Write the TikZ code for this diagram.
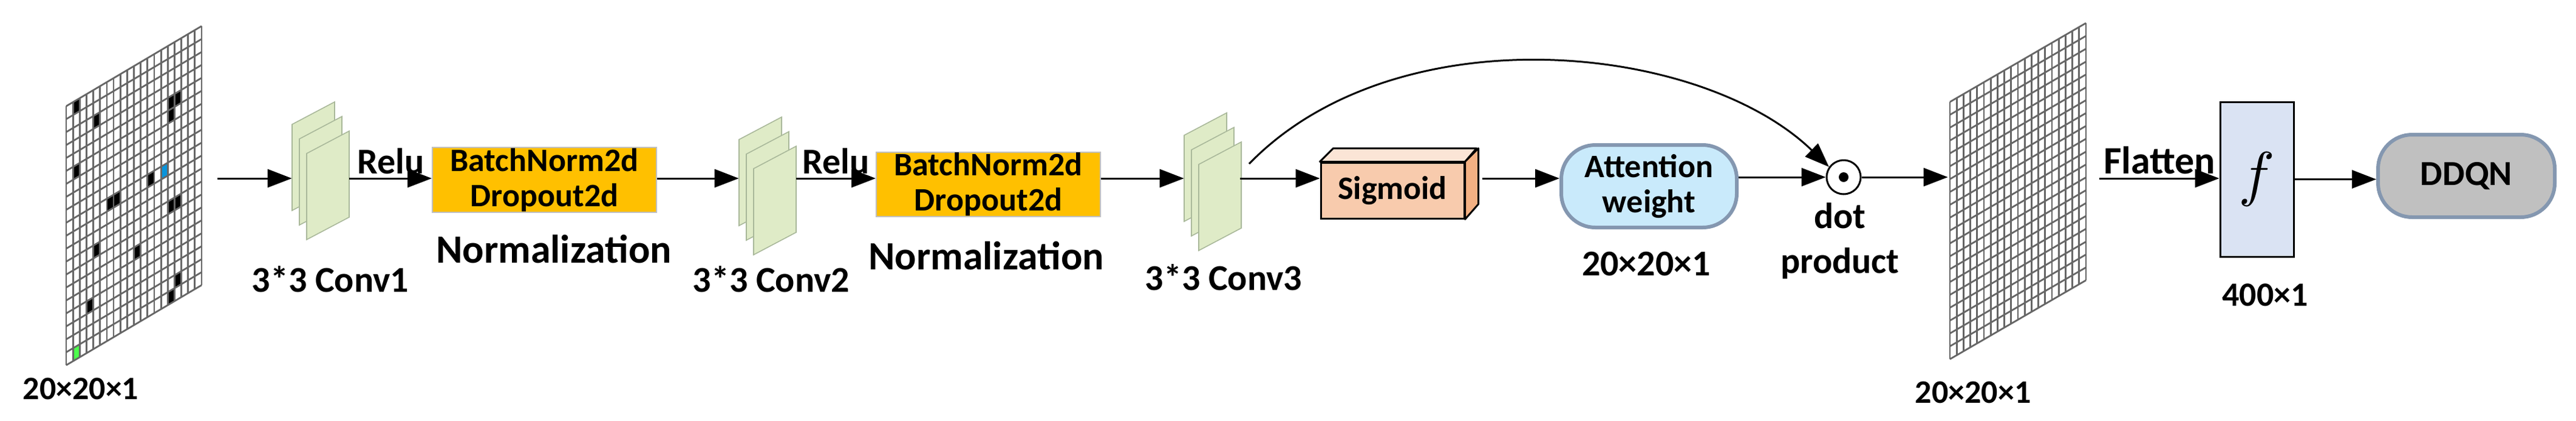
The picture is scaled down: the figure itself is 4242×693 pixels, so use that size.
\documentclass[tikz,border=0pt]{standalone}
\usepackage{fontspec}
\usepackage{graphicx}
\setmainfont{Carlito}
\usetikzlibrary{arrows.meta}
\definecolor{orng}{HTML}{FFC000}
\definecolor{convg}{HTML}{DFEBC7}
\definecolor{convb}{HTML}{A9B89A}
\definecolor{sigF}{HTML}{F8CBAD}
\definecolor{sigT}{HTML}{FBE5D6}
\definecolor{sigS}{HTML}{F4B183}
\definecolor{attF}{HTML}{C9EAFB}
\definecolor{bdr}{HTML}{8497B0}
\definecolor{fbox}{HTML}{DAE3F3}
\definecolor{ddq}{HTML}{C0C0C0}
\begin{document}
\begin{tikzpicture}[x=0.5pt,y=-0.5pt,
  lbl/.style={font=\fontsize{30}{34}\selectfont\bfseries, inner sep=0},
  box/.style={font=\fontsize{27}{31}\selectfont\bfseries, align=center, inner sep=0},
  arr/.style={line width=1.5pt,-{Triangle[length=20pt,width=15pt]}},
  hold/.style={inner sep=0, draw=none, minimum height=60pt},
  gline/.style={draw=black!60, line width=1.4pt},
  plane/.style={fill=convg, draw=convb, line width=0.8pt}]
\useasboundingbox (0,0) rectangle (4242,693);
% ---------- grid 1
\begin{scope}[shift={(109,175)}, x={(5.575pt,3.3pt)}, y={(0pt,-10.675pt)}]
  \fill[white] (0,0) -- (20,0) -- (20,20) -- (0,20) -- cycle;
  \foreach \c/\r in {1/0,4/2,15/4,16/4,1/5,14/9,12/9,6/9,7/9,15/12,4/12,10/14,16/18,15/19,3/16}
    {\fill[black] (\c,\r) -- (\c+1,\r) -- (\c+1,\r+1) -- (\c,\r+1) -- cycle;}
  \fill[black] (15,4) -- (16,4) -- (16,6) -- (15,6) -- cycle;
  \fill[black] (15,12) -- (17,12) -- (17,13) -- (15,13) -- cycle;
  \fill[cyan!80!blue] (14,9) -- (15,9) -- (15,10) -- (14,10) -- cycle;
  \fill[green!70] (1,19) -- (2,19) -- (2,20) -- (1,20) -- cycle;
  \foreach \i in {0,...,20} {\draw[gline] (\i,0) -- (\i,20); \draw[gline] (0,\i) -- (20,\i);}
\end{scope}
\node[hold, minimum width=124.5pt] (g1) at (233.5,294) {};
\node[lbl, font=\fontsize{27}{30}\selectfont\bfseries] at (133,641) {20×20×1};
% ---------- conv stacks
\newcommand\convstack[2]{%
  \foreach \k in {0,1,2}{%
    \draw[plane] (#1+12*\k,#2+24*\k) -- ++(70,-37) -- ++(0,142) -- ++(-70,37) -- cycle;}}
\convstack{481}{205}
\node[hold, minimum width=47pt] (c1) at (528,294) {};
\node[lbl] at (544,460) {3*3 Conv1};
\convstack{1217}{230}
\node[hold, minimum width=47pt] (c2) at (1264,294) {};
\node[lbl] at (1270,460) {3*3 Conv2};
\convstack{1950}{223}
\node[hold, minimum width=46pt] (c3) at (1996,294) {};
\node[lbl] at (2015,457) {3*3 Conv3};
% ---------- normalization boxes
\node[box, fill=orng, draw=black!25, line width=1pt, minimum width=184.5pt, minimum height=53.5pt] (n1) at (896.5,296.5) {BatchNorm2d\\[-2pt]Dropout2d};
\node[lbl, font=\fontsize{33}{36}\selectfont\bfseries] at (912,411) {Normalization};
\node[box, fill=orng, draw=black!25, line width=1pt, minimum width=184.5pt, minimum height=53pt] (n2) at (1627.5,304) {BatchNorm2d\\[-2pt]Dropout2d};
\node[lbl, font=\fontsize{33}{36}\selectfont\bfseries] at (1624,422) {Normalization};
% ---------- sigmoid cuboid
\node[box, fill=sigF, draw=black, line width=1.5pt, minimum width=118pt, minimum height=46pt] (sig) at (2293,314) {Sigmoid};
\draw[fill=sigT, line width=1.5pt, line join=round] (sig.north west) -- ++(22,-22) -- ++(236,0) -- (sig.north east) -- cycle;
\draw[fill=sigS, line width=1.5pt, line join=round] (sig.north east) -- ++(22,-22) -- ++(0,92) -- (sig.south east) -- cycle;
% ---------- attention
\node[box, fill=attF, draw=bdr, line width=3pt, rounded corners=28pt, minimum width=144.5pt, minimum height=68pt] (att) at (2715.5,307) {Attention\\[-2pt]weight};
\node[lbl] at (2711,435) {20×20×1};
% ---------- dot product
\node[circle, draw=black, line width=1.5pt, minimum size=28pt, inner sep=0] (dot) at (3036,292) {};
\fill (dot.center) circle (4pt);
\node[lbl, align=center] at (3030,397) {dot\\[3pt]product};
% ---------- grid 2
\begin{scope}[shift={(3211,168)}, x={(5.6pt,3.25pt)}, y={(0pt,-10.6pt)}]
  \fill[white] (0,0) -- (20,0) -- (20,20) -- (0,20) -- cycle;
  \foreach \i in {0,...,20} {\draw[gline] (\i,0) -- (\i,20); \draw[gline] (0,\i) -- (20,\i);}
\end{scope}
\node[hold, minimum width=124.5pt] (g2) at (3332.5,294) {};
\node[lbl, font=\fontsize{27}{30}\selectfont\bfseries] at (3249,647) {20×20×1};
% ---------- f box and DDQN
\node[fill=fbox, draw=black, line width=1.5pt, minimum width=60.5pt, minimum height=127.5pt, inner sep=0] (fb) at (3716.5,295.5) {\scalebox{5}{$f$}};
\node[lbl, font=\fontsize{28}{30}\selectfont\bfseries] at (3730,486) {400×1};
\node[box, font=\fontsize{29}{32}\selectfont\bfseries, fill=ddq, draw=bdr, line width=3pt, rounded corners=28pt, minimum width=145.5pt, minimum height=68pt] (dq) at (4061.5,290) {DDQN};
% ---------- connectors
\draw[arr] (g1.east) -- (c1.west);
\draw[arr] (c1.east) -- (c1.east -| n1.west) node[lbl, midway, above=3pt] {Relu};
\draw[arr] (n1.east |- c2.west) -- (c2.west);
\draw[arr] (c2.east) -- (c2.east -| n2.west) node[lbl, midway, above=3pt] {Relu};
\draw[arr] (n2.east |- c3.west) -- (c3.west);
\draw[arr] (c3.east) -- (c3.east -| sig.west);
\draw[arr] ([xshift=14pt]sig.east |- c3.east) -- (c3.east -| att.west);
\draw[arr] (att.east |- dot.west) -- (dot.west);
\coordinate (cs) at (2057,270);
\draw[arr] (cs) .. controls (2300,20) and (2800,70) .. (dot.145);
\draw[arr] (dot.east) -- (dot.east -| g2.west);
\draw[arr] (g2.east) -- (g2.east -| fb.west) node[lbl, midway, above=3pt, font=\fontsize{32}{34}\selectfont\bfseries] {Flatten};
\draw[arr] (fb.east) -- (fb.east -| dq.west);
\end{tikzpicture}
\end{document}
